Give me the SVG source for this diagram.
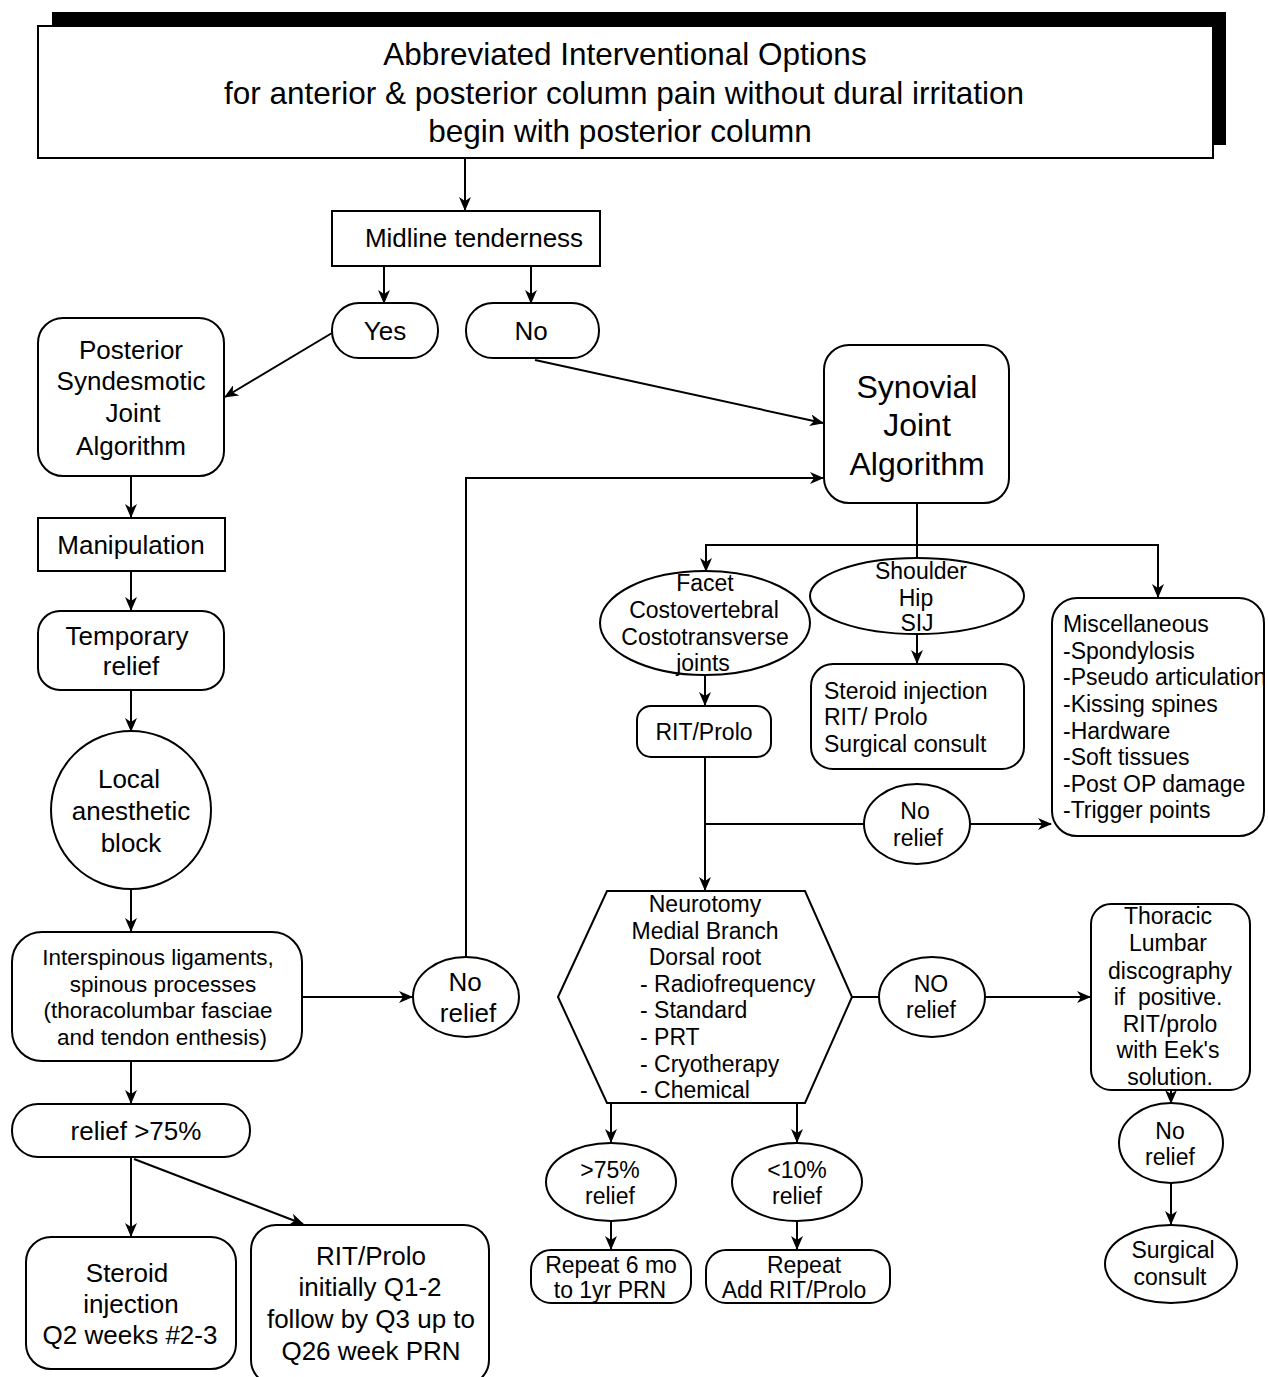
<svg xmlns="http://www.w3.org/2000/svg" width="1268" height="1377" viewBox="0 0 1268 1377">
<style>
text{font-family:"Liberation Sans",Arial,sans-serif;fill:#000}
.c{text-anchor:middle}
.s{fill:#fff;stroke:#000;stroke-width:2}
.ln{fill:none;stroke:#000;stroke-width:2}
.f24{font-size:26px}
.f21{font-size:23px}
.f20{font-size:22.5px}
.f30{font-size:32px}
</style>
<defs>
<marker id="ar" markerWidth="14" markerHeight="12" refX="13" refY="6" orient="auto" markerUnits="userSpaceOnUse">
<path d="M0,0 L14,6 L0,12 L4,6 z" fill="#000"/>
</marker>
<clipPath id="miscclip"><rect x="1052" y="598" width="211" height="238"/></clipPath>
</defs>
<rect width="1268" height="1377" fill="#fff"/>

<g id="header">
<rect x="52" y="12" width="1174" height="133" fill="#000"/>
<rect x="38" y="26" width="1175" height="132" class="s"/>
<text x="625" y="65" class="c" font-size="31.5">Abbreviated Interventional Options</text>
<text x="624" y="104" class="c" font-size="31.5">for anterior &amp; posterior column pain without dural irritation</text>
<text x="620" y="142" class="c" font-size="31.5">begin with posterior column</text>
</g>

<g id="connectors">
<line x1="465" y1="158" x2="465" y2="210" class="ln" marker-end="url(#ar)"/>
<line x1="384" y1="266" x2="384" y2="303" class="ln" marker-end="url(#ar)"/>
<line x1="531" y1="266" x2="531" y2="303" class="ln" marker-end="url(#ar)"/>
<line x1="332" y1="333" x2="225" y2="397" class="ln" marker-end="url(#ar)"/>
<line x1="535" y1="360" x2="823" y2="423" class="ln" marker-end="url(#ar)"/>
<line x1="131" y1="476" x2="131" y2="517" class="ln" marker-end="url(#ar)"/>
<line x1="131" y1="571" x2="131" y2="610" class="ln" marker-end="url(#ar)"/>
<line x1="131" y1="690" x2="131" y2="731" class="ln" marker-end="url(#ar)"/>
<line x1="131" y1="889" x2="131" y2="931" class="ln" marker-end="url(#ar)"/>
<line x1="302" y1="997" x2="412" y2="997" class="ln" marker-end="url(#ar)"/>
<polyline points="466,957 466,478 823,478" class="ln" marker-end="url(#ar)"/>
<line x1="131" y1="1061" x2="131" y2="1103" class="ln" marker-end="url(#ar)"/>
<line x1="131" y1="1157" x2="131" y2="1236" class="ln" marker-end="url(#ar)"/>
<line x1="134" y1="1159" x2="303" y2="1224" class="ln" marker-end="url(#ar)"/>
<line x1="917" y1="503" x2="917" y2="560" class="ln"/>
<polyline points="706,570 706,545 1158,545 1158,597" class="ln" marker-end="url(#ar)"/>
<line x1="706" y1="545" x2="706" y2="571" class="ln" marker-end="url(#ar)"/>
<line x1="917" y1="634" x2="917" y2="663" class="ln" marker-end="url(#ar)"/>
<line x1="705" y1="675" x2="705" y2="705" class="ln" marker-end="url(#ar)"/>
<line x1="705" y1="757" x2="705" y2="890" class="ln" marker-end="url(#ar)"/>
<line x1="705" y1="824" x2="864" y2="824" class="ln"/>
<line x1="970" y1="824" x2="1051" y2="824" class="ln" marker-end="url(#ar)"/>
<line x1="852" y1="997" x2="879" y2="997" class="ln"/>
<line x1="985" y1="997" x2="1090" y2="997" class="ln" marker-end="url(#ar)"/>
<line x1="1171" y1="1090" x2="1171" y2="1103" class="ln" marker-end="url(#ar)"/>
<line x1="1171" y1="1183" x2="1171" y2="1224" class="ln" marker-end="url(#ar)"/>
<line x1="611" y1="1103" x2="611" y2="1142" class="ln" marker-end="url(#ar)"/>
<line x1="797" y1="1103" x2="797" y2="1142" class="ln" marker-end="url(#ar)"/>
<line x1="611" y1="1221" x2="611" y2="1249" class="ln" marker-end="url(#ar)"/>
<line x1="797" y1="1221" x2="797" y2="1249" class="ln" marker-end="url(#ar)"/>
</g>

<g id="midline">
<rect x="332" y="211" width="268" height="55" class="s"/>
<text x="474" y="247" class="c f24">Midline tenderness</text>
</g>
<g id="yes">
<rect x="332" y="303" width="106" height="55" rx="27" class="s"/>
<text x="385" y="340" class="c f24">Yes</text>
</g>
<g id="no">
<rect x="466" y="303" width="133" height="55" rx="27" class="s"/>
<text x="531" y="340" class="c f24">No</text>
</g>
<g id="posterior">
<rect x="38" y="318" width="186" height="158" rx="25" class="s"/>
<text x="131" y="359" class="c f24">Posterior</text>
<text x="131" y="390" class="c f24">Syndesmotic</text>
<text x="133" y="422" class="c f24">Joint</text>
<text x="131" y="455" class="c f24">Algorithm</text>
</g>
<g id="synovial">
<rect x="824" y="345" width="185" height="158" rx="25" class="s"/>
<text x="917" y="398" class="c f30">Synovial</text>
<text x="917" y="436" class="c f30">Joint</text>
<text x="917" y="475" class="c f30">Algorithm</text>
</g>
<g id="manipulation">
<rect x="38" y="518" width="187" height="53" class="s"/>
<text x="131" y="554" class="c f24">Manipulation</text>
</g>
<g id="temporary">
<rect x="38" y="611" width="186" height="79" rx="22" class="s"/>
<text x="127" y="645" class="c f24">Temporary</text>
<text x="131" y="675" class="c f24">relief</text>
</g>
<g id="local">
<ellipse cx="131" cy="810" rx="80" ry="79" class="s"/>
<text x="129" y="788" class="c f24">Local</text>
<text x="131" y="820" class="c f24">anesthetic</text>
<text x="131" y="852" class="c f24">block</text>
</g>
<g id="interspinous">
<rect x="12" y="932" width="290" height="129" rx="30" class="s"/>
<text x="158" y="965" class="c f20">Interspinous ligaments,</text>
<text x="163" y="992" class="c f20">spinous processes</text>
<text x="158" y="1018" class="c f20">(thoracolumbar fasciae</text>
<text x="162" y="1045" class="c f20">and tendon enthesis)</text>
</g>
<g id="norelief1">
<ellipse cx="466" cy="997" rx="53" ry="40" class="s"/>
<text x="465" y="991" class="c f24">No</text>
<text x="468" y="1022" class="c f24">relief</text>
</g>
<g id="relief75">
<rect x="12" y="1104" width="238" height="53" rx="26" class="s"/>
<text x="136" y="1140" class="c f24">relief &gt;75%</text>
</g>
<g id="steroid1">
<rect x="26" y="1237" width="210" height="132" rx="25" class="s"/>
<text x="127" y="1282" class="c f24">Steroid</text>
<text x="131" y="1313" class="c f24">injection</text>
<text x="130" y="1344" class="c f24">Q2 weeks #2-3</text>
</g>
<g id="ritprolo1">
<rect x="251" y="1225" width="238" height="160" rx="25" class="s"/>
<text x="371" y="1265" class="c f24">RIT/Prolo</text>
<text x="370" y="1296" class="c f24">initially Q1-2</text>
<text x="371" y="1328" class="c f24">follow by Q3 up to</text>
<text x="371" y="1360" class="c f24">Q26 week PRN</text>
</g>
<g id="facet">
<ellipse cx="705" cy="623" rx="105" ry="52" class="s"/>
<text x="705" y="591" class="c f21">Facet</text>
<text x="704" y="618" class="c f21">Costovertebral</text>
<text x="705" y="645" class="c f21">Costotransverse</text>
<text x="703" y="671" class="c f21">joints</text>
</g>
<g id="shoulder">
<ellipse cx="917" cy="596" rx="107" ry="38" class="s"/>
<text x="921" y="579" class="c f21">Shoulder</text>
<text x="916" y="606" class="c f21">Hip</text>
<text x="917" y="631" class="c f21">SIJ</text>
</g>
<g id="misc">
<rect x="1052" y="598" width="212" height="238" rx="25" class="s"/>
<g clip-path="url(#miscclip)">
<text x="1063" y="632" class="f21">Miscellaneous</text>
<text x="1063" y="659" class="f21">-Spondylosis</text>
<text x="1063" y="685" class="f21">-Pseudo articulation</text>
<text x="1063" y="712" class="f21">-Kissing spines</text>
<text x="1063" y="739" class="f21">-Hardware</text>
<text x="1063" y="765" class="f21">-Soft tissues</text>
<text x="1063" y="792" class="f21">-Post OP damage</text>
<text x="1063" y="818" class="f21">-Trigger points</text>
</g>
</g>
<g id="steroid2">
<rect x="811" y="664" width="213" height="105" rx="22" class="s"/>
<text x="824" y="699" class="f21">Steroid injection</text>
<text x="824" y="725" class="f21">RIT/ Prolo</text>
<text x="824" y="752" class="f21">Surgical consult</text>
</g>
<g id="ritprolo2">
<rect x="637" y="706" width="134" height="51" rx="14" class="s"/>
<text x="704" y="740" class="c f21">RIT/Prolo</text>
</g>
<g id="norelief2">
<ellipse cx="917" cy="824" rx="53" ry="40" class="s"/>
<text x="915" y="819" class="c f21">No</text>
<text x="918" y="846" class="c f21">relief</text>
</g>
<g id="neurotomy">
<polygon points="558,997 607,891 805,891 852,997 805,1103 607,1103" class="s"/>
<text x="705" y="912" class="c f21">Neurotomy</text>
<text x="705" y="939" class="c f21">Medial Branch</text>
<text x="705" y="965" class="c f21">Dorsal root</text>
<text x="640" y="992" class="f21">- Radiofrequency</text>
<text x="640" y="1018" class="f21">- Standard</text>
<text x="640" y="1045" class="f21">- PRT</text>
<text x="640" y="1072" class="f21">- Cryotherapy</text>
<text x="640" y="1098" class="f21">- Chemical</text>
</g>
<g id="norelief3">
<ellipse cx="932" cy="997" rx="53" ry="40" class="s"/>
<text x="931" y="992" class="c f21">NO</text>
<text x="931" y="1018" class="c f21">relief</text>
</g>
<g id="thoracic">
<rect x="1091" y="904" width="159" height="186" rx="20" class="s"/>
<text x="1168" y="924" class="c f21">Thoracic</text>
<text x="1168" y="951" class="c f21">Lumbar</text>
<text x="1170" y="979" class="c f21">discography</text>
<text x="1168" y="1005" class="c f21">if&#160; positive.</text>
<text x="1170" y="1032" class="c f21">RIT/prolo</text>
<text x="1168" y="1058" class="c f21">with Eek's</text>
<text x="1170" y="1085" class="c f21">solution.</text>
</g>
<g id="norelief4">
<ellipse cx="1171" cy="1143" rx="52" ry="40" class="s"/>
<text x="1170" y="1139" class="c f21">No</text>
<text x="1170" y="1165" class="c f21">relief</text>
</g>
<g id="surgical">
<ellipse cx="1171" cy="1264" rx="66" ry="39" class="s"/>
<text x="1173" y="1258" class="c f21">Surgical</text>
<text x="1170" y="1285" class="c f21">consult</text>
</g>
<g id="gt75">
<ellipse cx="611" cy="1182" rx="65" ry="39" class="s"/>
<text x="610" y="1178" class="c f21">&gt;75%</text>
<text x="610" y="1204" class="c f21">relief</text>
</g>
<g id="lt10">
<ellipse cx="797" cy="1182" rx="65" ry="39" class="s"/>
<text x="797" y="1178" class="c f21">&lt;10%</text>
<text x="797" y="1204" class="c f21">relief</text>
</g>
<g id="repeat1">
<rect x="531" y="1250" width="160" height="53" rx="20" class="s"/>
<text x="611" y="1273" class="c f21">Repeat 6 mo</text>
<text x="610" y="1298" class="c f21">to 1yr PRN</text>
</g>
<g id="repeat2">
<rect x="706" y="1250" width="184" height="53" rx="20" class="s"/>
<text x="804" y="1273" class="c f21">Repeat</text>
<text x="794" y="1298" class="c f21">Add RIT/Prolo</text>
</g>
</svg>
